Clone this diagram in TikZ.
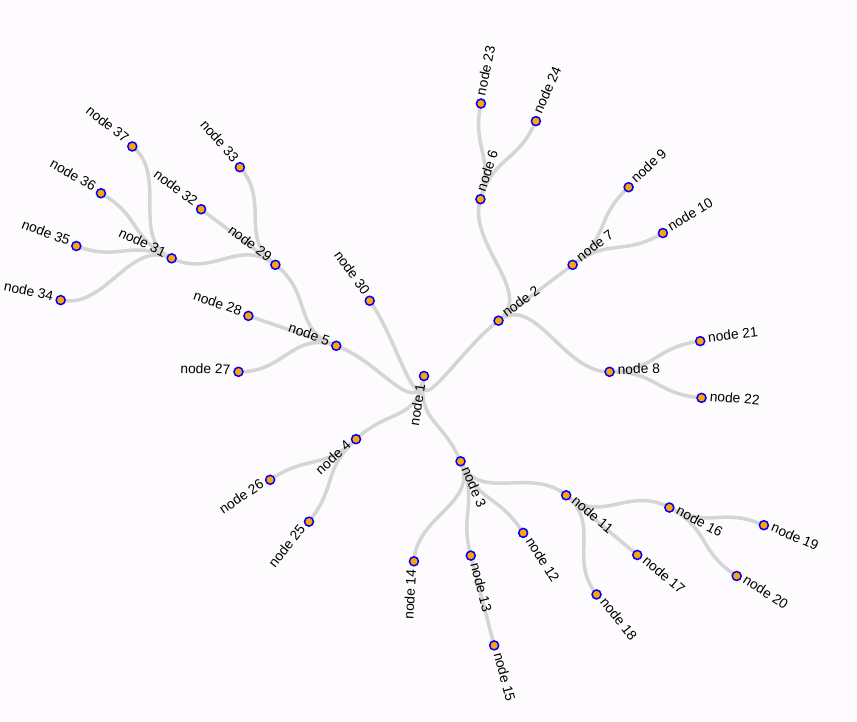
\documentclass[tikz,border=0pt]{standalone}
\usepackage{fontspec}
\setmainfont{Liberation Sans}
\usetikzlibrary{calc}
\pgfdeclarelayer{bg}
\pgfsetlayers{bg,main}
\definecolor{bgc}{HTML}{FEFBFE}
\definecolor{linkc}{HTML}{D5D5D5}
\definecolor{dotfill}{HTML}{FFA500}
\definecolor{dotline}{HTML}{0000FF}
\begin{document}
\begin{tikzpicture}[x=1pt,y=1pt,
  link/.style={draw=linkc, line width=3.5pt},
  dot/.style={circle, draw=dotline, fill=dotfill, line width=1.5pt, minimum size=9pt, inner sep=0pt},
  lab/.style={font=\fontsize{13.8}{16}\selectfont, inner sep=0pt, text=black}]
\useasboundingbox (0,0) rectangle (857,-721);
\coordinate (O) at (424,-376);
\foreach \n/\t/\d in {1/98.85/0, 2/-36.6/1, 3/66.8/1, 4/137.1/1, 5/199.0/1, 30/234.2/1,
  6/-72.3/2, 7/-36.8/2, 8/-1.3/2, 11/40.0/2, 12/57.7/2, 13/75.4/2, 14/93.1/2,
  25/128.3/2, 26/146.0/2, 27/181.3/2, 28/198.9/2, 29/216.8/2,
  23/-78.2/3, 24/-66.3/3, 9/-42.7/3, 10/-30.9/3, 21/-7.2/3, 22/4.5/3,
  16/28.2/3, 17/40.0/3, 18/51.7/3, 15/75.4/3, 31/205.0/3, 32/216.8/3, 33/228.6/3,
  19/23.7/4, 20/32.6/4, 34/191.8/4, 35/200.5/4, 36/209.5/4, 37/218.2/4}{
  \pgfmathsetmacro\ph{0-(\t)}
  \pgfmathsetmacro\r{\d*92.8}
  \pgfmathsetmacro\lr{\d*92.8+8}
  \expandafter\xdef\csname ang\n\endcsname{\ph}
  \node[dot] (n\n) at ($(O)+(\ph:\r)$) {};
  \pgfmathtruncatemacro\isl{cos(\t)<0 ? 1 : 0}
  \ifnum\isl=1
    \pgfmathsetmacro\rot{\ph+180}
    \node[lab, anchor=mid east, rotate=\rot] (l\n) at ($(O)+(\ph:\lr)$) {node \n};
  \else
    \node[lab, anchor=mid west, rotate=\ph] (l\n) at ($(O)+(\ph:\lr)$) {node \n};
  \fi
}
\begin{pgfonlayer}{bg}
\fill[bgc] (0,0) rectangle (857,-721);
\foreach \c/\p/\dp in {2/1/0, 3/1/0, 4/1/0, 5/1/0, 30/1/0,
  6/2/1, 7/2/1, 8/2/1, 11/3/1, 12/3/1, 13/3/1, 14/3/1, 25/4/1, 26/4/1,
  27/5/1, 28/5/1, 29/5/1,
  23/6/2, 24/6/2, 9/7/2, 10/7/2, 21/8/2, 22/8/2, 16/11/2, 17/11/2, 18/11/2,
  15/13/2, 31/29/2, 32/29/2, 33/29/2,
  19/16/3, 20/16/3, 34/31/3, 35/31/3, 36/31/3, 37/31/3}{
  \pgfmathsetmacro\m{(\dp+0.5)*92.8}
  \edef\ap{\csname ang\p\endcsname}
  \edef\ac{\csname ang\c\endcsname}
  \draw[link] (n\p.center) .. controls ($(O)+(\ap:\m)$) and ($(O)+(\ac:\m)$) .. (n\c.center);
}
\end{pgfonlayer}
\end{tikzpicture}
\end{document}
